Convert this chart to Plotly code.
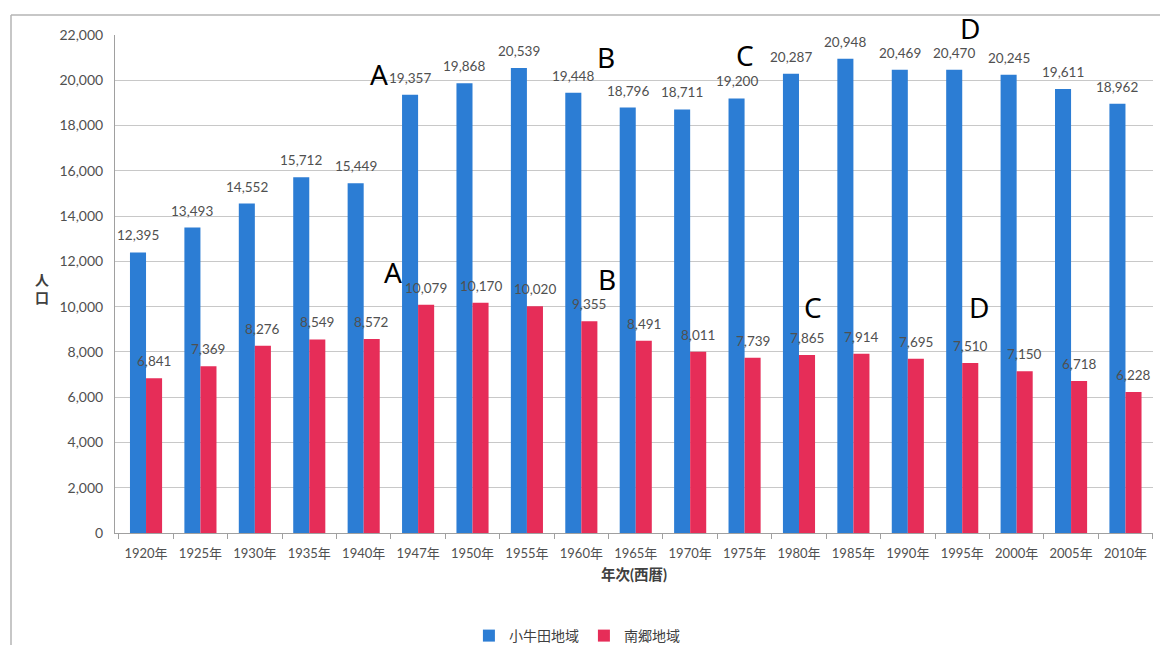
import plotly.graph_objects as go

# Census years and population of the two districts
years = ["1920年", "1925年", "1930年", "1935年", "1940年", "1947年", "1950年", "1955年",
         "1960年", "1965年", "1970年", "1975年", "1980年", "1985年", "1990年", "1995年",
         "2000年", "2005年", "2010年"]
kogota = [12395, 13493, 14552, 15712, 15449, 19357, 19868, 20539, 19448, 18796,
          18711, 19200, 20287, 20948, 20469, 20470, 20245, 19611, 18962]
nango = [6841, 7369, 8276, 8549, 8572, 10079, 10170, 10020, 9355, 8491,
         8011, 7739, 7865, 7914, 7695, 7510, 7150, 6718, 6228]
series_names = ["小牛田地域", "南郷地域"]
y_ticks = list(range(0, 22001, 2000))

BLUE = "#2c7dd4"
RED = "#e62d58"
TXT = "#505050"
FONT = "Lato, 'Noto Sans CJK JP', sans-serif"
BARGAP = 0.41

fig = go.Figure()
for name, vals, col in [(series_names[0], kogota, BLUE), (series_names[1], nango, RED)]:
    fig.add_trace(go.Bar(
        x=years, y=vals, name=name,
        marker=dict(color=col, line=dict(width=0)),
        cliponaxis=False,
    ))

annotations = []

# value labels above each bar (bar centres sit a quarter of the group width off the category)
half = (1 - BARGAP) / 4
for vals, off in [(kogota, -half), (nango, half)]:
    for i, v in enumerate(vals):
        annotations.append(dict(x=i + off, y=v, xref="x", yref="y", text=f"{v:,}",
                                showarrow=False, yanchor="bottom", yshift=7,
                                font=dict(size=13.5, color=TXT, family=FONT)))

# Section markers A-D (category index, y value, extra pixel shift)
markers = [("A", 4.28, 20280, 0), ("A", 4.53, 11530, 0), ("B", 8.45, 21030, 0),
           ("B", 8.47, 11220, 0), ("C", 11.01, 21120, 0), ("C", 12.26, 9985, 0),
           ("D", 15.15, 22000, 7), ("D", 15.30, 9985, 0)]
for t, x, y, s in markers:
    annotations.append(dict(x=x, y=y, xref="x", yref="y", text=t, showarrow=False, yshift=s,
                            font=dict(size=28, color="black", family="Noto Sans")))

# vertical y-axis title
annotations.append(dict(x=-0.070, y=0.49, xref="paper", yref="paper", text="<b>人<br>口</b>",
                        xanchor="center", yanchor="middle",
                        showarrow=False, font=dict(size=14, color="#404040", family=FONT)))

W, H = 1160, 659
L, R, T, B = 115, 7, 35, 126
pw, ph = W - L - R, H - T - B

def px(x):
    return (x - L) / pw

def py(y):
    return (H - B - y) / ph

frame = dict(color="#b5b5b5", width=1.5)
fig.update_layout(
    width=W, height=H,
    margin=dict(l=L, r=R, t=T, b=B),
    paper_bgcolor="white", plot_bgcolor="white",
    barmode="group", bargap=BARGAP, bargroupgap=0,
    font=dict(family=FONT, color=TXT),
    showlegend=True,
    legend=dict(orientation="h", x=0.445, xanchor="center", y=py(636), yanchor="middle",
                font=dict(size=14, color="#404040"), itemwidth=30,
                traceorder="normal"),
    annotations=annotations,
    shapes=[
        dict(type="line", xref="paper", yref="paper", x0=px(11), x1=px(1160),
             y0=py(15), y1=py(15), line=frame, layer="below"),
        dict(type="line", xref="paper", yref="paper", x0=px(11), x1=px(11),
             y0=py(15), y1=py(645), line=frame, layer="below"),
    ],
)
fig.update_xaxes(
    type="category", tickson="boundaries", ticks="outside", ticklen=5, tickcolor="#a0a0a0",
    showline=True, linecolor="#a0a0a0", linewidth=1,
    tickfont=dict(size=13, color=TXT), ticklabelstandoff=8,
    title=dict(text="<b>年次(西暦)</b>", font=dict(size=14.5, color="#404040"), standoff=10),
)
fig.update_yaxes(
    range=[0, 22000], tickvals=y_ticks, tickformat=",",
    showgrid=True, gridcolor="#c8c8c8", gridwidth=1,
    showline=True, linecolor="#a0a0a0", linewidth=1,
    ticks="", tickfont=dict(size=14, color=TXT), ticklabelstandoff=8,
    zeroline=False,
)

fig.write_html("out.html")
